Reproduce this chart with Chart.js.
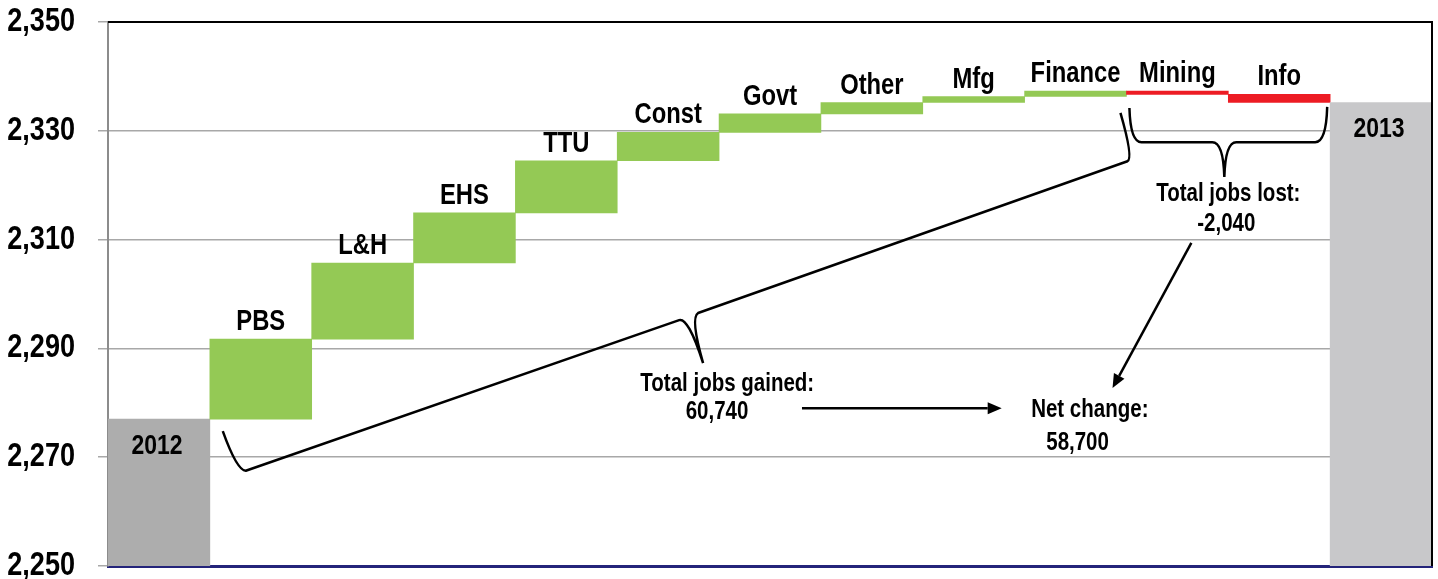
<!DOCTYPE html>
<html>
<head>
<meta charset="utf-8">
<script src="https://cdn.jsdelivr.net/npm/chart.js"></script>
<style>
  html, body { margin: 0; padding: 0; background: #fff; }
  #wrap { width: 1438px; height: 579px; }
</style>
</head>
<body>
<div id="wrap"><canvas id="myChart"></canvas></div>
<script>
// data (thousands of jobs)
var categories = ['2012', 'PBS', 'L&H', 'EHS', 'TTU', 'Const', 'Govt', 'Other', 'Mfg', 'Finance', 'Mining', 'Info', '2013'];
var startLevel = 2277.0;
var changes = [14.7, 14.0, 9.2, 9.6, 5.2, 3.4, 2.1, 1.1, 1.0, -0.6, -1.5];
var endLevel = 2335.2;
var tickLabels = ['2,250', '2,270', '2,290', '2,310', '2,330', '2,350'];
var axisMin = 2250, axisMax = 2350, axisStep = 20;

// annotation texts, placed as [category position, value]
var notes = [
    { text: 'Total jobs gained:', at: [5.58, 2283.4] },
    { text: '60,740', at: [5.48, 2278.3] },
    { text: 'Net change:', at: [9.14, 2278.6] },
    { text: '58,700', at: [9.02, 2272.6] },
    { text: 'Total jobs lost:', at: [10.50, 2318.4] },
    { text: '-2,040', at: [10.48, 2312.9] }
];
var braces = [
    [['M', 0.627, 2274.8], ['Q', 0.765, 2267.6, 0.853, 2267.5], ['L', 5.108, 2295.2], ['Q', 5.196, 2295.8, 5.343, 2287.3],
     ['M', 5.343, 2287.3], ['Q', 5.216, 2295.6, 5.294, 2296.5], ['L', 9.510, 2324.4], ['Q', 9.569, 2325.0, 9.441, 2333.3]],
    [['M', 9.529, 2334.2], ['Q', 9.539, 2327.9, 9.647, 2327.9], ['L', 10.343, 2327.9], ['Q', 10.451, 2327.9, 10.461, 2321.5],
     ['M', 10.461, 2321.5], ['Q', 10.471, 2327.9, 10.578, 2327.9], ['L', 11.353, 2327.9], ['Q', 11.461, 2327.9, 11.471, 2334.4]]
];
var arrows = [
    [[6.314, 2279.0], [8.275, 2279.0]],
    [[10.137, 2309.4], [9.363, 2282.7]]
];

// waterfall ranges
var level = startLevel;
var ranges = [[axisMin, startLevel]];
changes.forEach(function (d) {
    ranges.push([level, level + d]);
    level += d;
});
ranges.push([axisMin, endLevel]);

var colors = ranges.map(function (r, i) {
    if (i === 0) return '#ADADAD';
    if (i === ranges.length - 1) return '#C8C8CA';
    return changes[i - 1] >= 0 ? '#94C955' : '#ED1C24';
});

function narrowText(ctx, text, x, y, size, align, baseline) {
    ctx.save();
    ctx.font = 'bold ' + size + 'px "Liberation Sans", Arial, sans-serif';
    ctx.fillStyle = '#000';
    ctx.textAlign = align;
    ctx.textBaseline = baseline;
    ctx.translate(x, y);
    ctx.scale(0.82, 1);
    ctx.fillText(text, 0, 0);
    ctx.restore();
}

var decorations = {
    id: 'decorations',
    afterDraw: function (chart) {
        var ctx = chart.ctx;
        var xs = chart.scales.x, ys = chart.scales.y;
        var area = chart.chartArea;
        function px(p) { return [xs.getPixelForValue(p[0]), ys.getPixelForValue(p[1])]; }

        // frame top and right
        ctx.save();
        ctx.strokeStyle = '#000';
        ctx.lineWidth = 2;
        ctx.beginPath();
        ctx.moveTo(area.left, area.top);
        ctx.lineTo(area.right, area.top);
        ctx.lineTo(area.right, area.bottom);
        ctx.stroke();
        ctx.restore();

        // y tick labels
        ys.ticks.forEach(function (t, i) {
            narrowText(ctx, tickLabels[i], area.left - 33, ys.getPixelForValue(t.value), 33, 'right', 'middle');
        });

        // category labels
        var meta = chart.getDatasetMeta(0);
        meta.data.forEach(function (bar, i) {
            var top = ys.getPixelForValue(Math.max(ranges[i][0], ranges[i][1]));
            if (i === 0 || i === ranges.length - 1) {
                narrowText(ctx, categories[i], bar.x - 2, top + 27, 28, 'center', 'middle');
            } else {
                narrowText(ctx, categories[i], bar.x, top - 9, 29, 'center', 'alphabetic');
            }
        });

        // braces
        ctx.save();
        ctx.strokeStyle = '#000';
        ctx.lineWidth = 2.5;
        ctx.lineJoin = 'round';
        braces.forEach(function (path) {
            ctx.beginPath();
            path.forEach(function (s) {
                if (s[0] === 'M') { var m = px([s[1], s[2]]); ctx.moveTo(m[0], m[1]); }
                if (s[0] === 'L') { var l = px([s[1], s[2]]); ctx.lineTo(l[0], l[1]); }
                if (s[0] === 'Q') {
                    var c = px([s[1], s[2]]), e = px([s[3], s[4]]);
                    ctx.quadraticCurveTo(c[0], c[1], e[0], e[1]);
                }
            });
            ctx.stroke();
        });

        // arrows
        arrows.forEach(function (a) {
            var p0 = px(a[0]), p1 = px(a[1]);
            var ang = Math.atan2(p1[1] - p0[1], p1[0] - p0[0]);
            var head = 14, half = 6;
            var bx = p1[0] - head * Math.cos(ang), by = p1[1] - head * Math.sin(ang);
            ctx.beginPath();
            ctx.moveTo(p0[0], p0[1]);
            ctx.lineTo(bx, by);
            ctx.stroke();
            ctx.beginPath();
            ctx.moveTo(p1[0], p1[1]);
            ctx.lineTo(bx + half * Math.sin(ang), by - half * Math.cos(ang));
            ctx.lineTo(bx - half * Math.sin(ang), by + half * Math.cos(ang));
            ctx.closePath();
            ctx.fillStyle = '#000';
            ctx.fill();
        });
        ctx.restore();

        // notes
        notes.forEach(function (n) {
            var p = px(n.at);
            narrowText(ctx, n.text, p[0], p[1], 25, 'center', 'middle');
        });
    }
};

var ctx = document.getElementById('myChart').getContext('2d');
var myChart = new Chart(ctx, {
    type: 'bar',
    data: {
        labels: categories,
        datasets: [{
            data: ranges,
            backgroundColor: colors,
            borderWidth: 0,
            barPercentage: 1,
            categoryPercentage: 1
        }]
    },
    options: {
        responsive: true,
        maintainAspectRatio: false,
        animation: false,
        layout: { padding: { left: 0, top: 22, right: 6, bottom: 0 } },
        plugins: {
            legend: { display: false },
            tooltip: { enabled: false }
        },
        scales: {
            x: {
                ticks: { display: false },
                grid: { display: false, drawTicks: false },
                border: { color: '#24247A', width: 3 },
                afterFit: function (s) { s.height = 13; }
            },
            y: {
                min: axisMin,
                max: axisMax,
                ticks: { stepSize: axisStep, display: false },
                grid: { color: '#A8A8A8', lineWidth: 1.5, tickLength: 10, drawTicks: true },
                border: { color: '#8C8C8C', width: 2 },
                afterFit: function (s) { s.width = 108; }
            }
        }
    },
    plugins: [decorations]
});
</script>
</body>
</html>
